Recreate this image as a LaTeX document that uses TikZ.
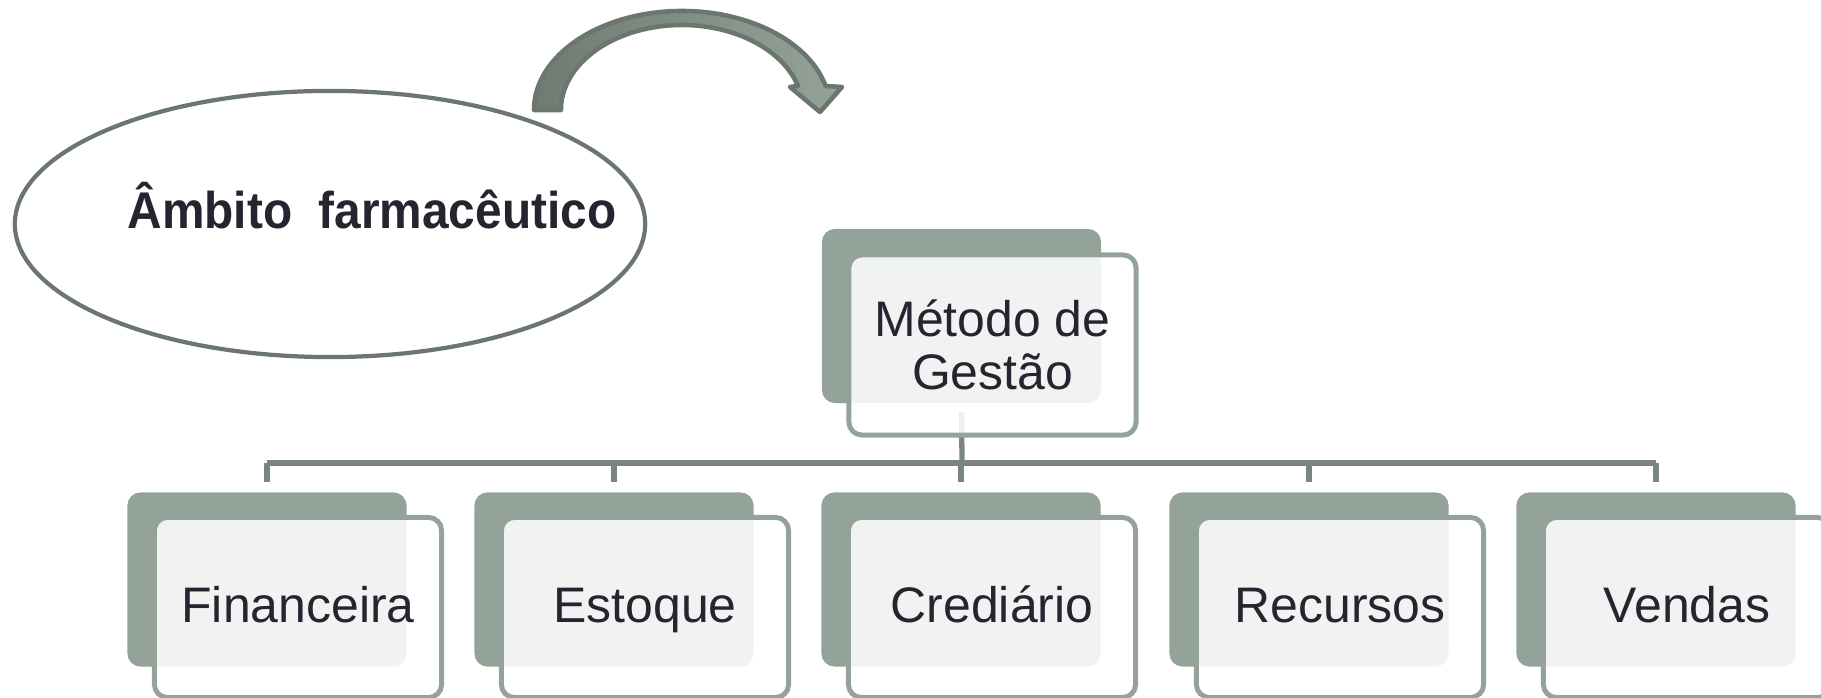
\documentclass[tikz,border=0pt]{standalone}
\usepackage{fontspec}
\setmainfont{Liberation Sans}
\usepackage{tikz}
\usetikzlibrary{shapes.geometric}

\definecolor{boxgray}{HTML}{94A39A}
\definecolor{ringgray}{HTML}{6B766E}
\definecolor{linkgray}{HTML}{7A857E}
\definecolor{arrowdark}{HTML}{6F7A72}
\definecolor{inkdark}{HTML}{25252F}

\tikzset{
	backbox/.style={rectangle, rounded corners=3.7pt, fill=boxgray,
		minimum width=2.79cm, minimum height=1.74cm, inner sep=0pt},
	frontbox/.style={rectangle, rounded corners=3.7pt, draw=boxgray,
		line width=1.4pt, fill=white, fill opacity=0.88, text opacity=1,
		text=inkdark, minimum width=2.87cm, minimum height=1.80cm,
		align=center, font=\fontsize{14.2}{15.1}\selectfont},
	leafbox/.style={frontbox, text height=0.84em, text depth=0pt},
	link/.style={draw=linkgray, line width=1.5pt}
}

\begin{document}
\begin{tikzpicture}[x=0.01cm, y=-0.01cm]
	\useasboundingbox (0,0) rectangle (1821,698);
	\clip (0,0) rectangle (1821,698);
	%
	\node[ellipse, draw=ringgray, line width=1.2pt, minimum width=6.3cm,
		minimum height=2.66cm] (A) at (330,224) {};
	\node[anchor=base, text=inkdark, font=\fontsize{13.6}{16}\selectfont\bfseries]
		(At) at (372,229) {\scalebox{1}[1.08]{Âmbito\ \ farmacêutico}};
	%
	\draw[ringgray, line width=1.3pt, line join=round,
		left color=arrowdark, right color=boxgray]
		(534,110) arc[start angle=180, end angle=346, x radius=148, y radius=99]
		-- (842,87) -- (820,112) -- (790,87) -- (798,86)
		arc[start angle=343.6, end angle=180, x radius=121, y radius=85] -- cycle;
	%
	\coordinate (J) at (962,463);
	\node[backbox] (Gb) at (961.5,316) {};
	\node[backbox] (Fb) at (267,579.5) {};
	\node[backbox] (Eb) at (614,579.5) {};
	\node[backbox] (Cb) at (961,579.5) {};
	\node[backbox] (Rb) at (1309,579.5) {};
	\node[backbox] (Vb) at (1656,579.5) {};
	%
	\draw[link, shorten <=2.3pt] (Gb.south) -- (J);
	\draw[link] (Fb.north |- J) -- (Vb.north |- J);
	\draw[link, shorten <=2.8pt] (Fb.north) -- (Fb.north |- J);
	\draw[link, shorten <=2.8pt] (Eb.north) -- (Eb.north |- J);
	\draw[link, shorten <=2.8pt] (Cb.north) -- (Cb.north |- J);
	\draw[link, shorten <=2.8pt] (Rb.north) -- (Rb.north |- J);
	\draw[link, shorten <=2.8pt] (Vb.north) -- (Vb.north |- J);
	%
	\node[frontbox] (G) at (992.5,345) {Método de\\Gestão};
	\node[leafbox] (F) at (298,607.5) {Financeira};
	\node[leafbox] (E) at (645,607.5) {Estoque};
	\node[leafbox] (C) at (992,607.5) {Crediário};
	\node[leafbox] (R) at (1340,607.5) {Recursos};
	\node[leafbox] (V) at (1687,607.5) {Vendas};
\end{tikzpicture}
\end{document}
